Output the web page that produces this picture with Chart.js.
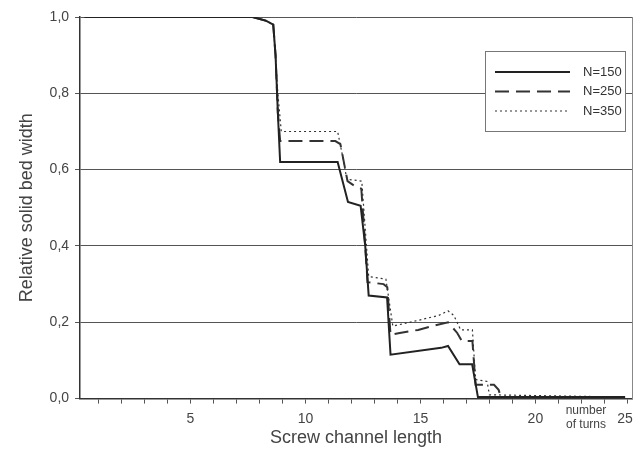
<!DOCTYPE html>
<html>
<head>
<meta charset="utf-8">
<script src="https://cdn.jsdelivr.net/npm/chart.js@4.4.0/dist/chart.umd.min.js"></script>
<style>
body { margin: 0; background: #fff; }
#wrap { width: 642px; height: 454px; }
</style>
</head>
<body>
<div id="wrap"><canvas id="chart"></canvas></div>
<script>
// series labels
const seriesLabels = ['N=150', 'N=250', 'N=350']

// number of turns (x) and relative solid bed width (y)
const x150 = [0.4, 7.7, 8.3, 8.6, 8.7, 8.8, 8.9, 11.4, 11.85, 12.4, 12.6, 12.75, 13.55, 13.7, 15.9, 16.2, 16.7, 17.25, 17.5, 23.9]
const y150 = [1.0, 1.0, 0.99, 0.98, 0.9, 0.75, 0.62, 0.62, 0.515, 0.505, 0.40, 0.27, 0.265, 0.115, 0.133, 0.138, 0.09, 0.09, 0.004, 0.004]

const x250 = [0.4, 7.7, 8.3, 8.6, 8.7, 8.8, 8.9, 11.3, 11.52, 11.83, 12.17, 12.43, 12.6, 12.7, 13.4, 13.56, 13.7, 14.1, 14.9, 15.65, 16.2, 16.6, 16.8, 17.26, 17.4, 18.2, 18.4, 18.5, 23.9]
const y250 = [1.0, 1.0, 0.99, 0.98, 0.9, 0.75, 0.675, 0.675, 0.667, 0.57, 0.556, 0.55, 0.40, 0.305, 0.30, 0.292, 0.167, 0.172, 0.18, 0.192, 0.20, 0.172, 0.151, 0.151, 0.036, 0.036, 0.023, 0.004, 0.004]

const x350 = [0.4, 7.7, 8.3, 8.6, 8.7, 8.8, 8.95, 11.4, 11.6, 11.8, 12.45, 12.75, 13.5, 13.8, 14.9, 15.8, 16.2, 16.45, 16.75, 17.26, 17.4, 17.9, 18.0, 23.9]
const y350 = [1.0, 1.0, 0.99, 0.98, 0.9, 0.8, 0.70, 0.70, 0.64, 0.575, 0.57, 0.32, 0.313, 0.19, 0.205, 0.218, 0.23, 0.218, 0.18, 0.18, 0.05, 0.045, 0.01, 0.004]

// tick marks on the x axis, labels only every 5 turns
const turnTicks = [1, 2, 3, 4, 5, 6, 7, 8, 9, 10, 11, 12, 13, 14, 15, 16, 17, 18, 19, 20, 21, 22, 23, 24]

const font = "'Liberation Sans', Arial, sans-serif"

function toPoints(xs, ys){
    let pts = []
    for (let i = 0; i < xs.length; i++)
        pts.push({x: xs[i], y: ys[i]})
    return pts
}

// legend box drawn inside the plot, plus the "number of turns" note
const boxLegend = {
    id: 'boxLegend',
    afterDraw(chart){
        const ctx = chart.ctx
        const xs = chart.scales.x
        const area = chart.chartArea
        ctx.save()

        // note at the end of the x axis
        ctx.fillStyle = '#444'
        ctx.textAlign = 'center'
        ctx.textBaseline = 'middle'
        ctx.font = '12px ' + font
        let nx = xs.getPixelForValue(22.2)
        ctx.fillText('number', nx, area.bottom + 12)
        ctx.fillText('of turns', nx, area.bottom + 26)
        ctx.font = '14px ' + font
        ctx.fillText('25', xs.getPixelForValue(23.9), area.bottom + 21)

        // legend
        const bx = 485, by = 51, bw = 140, bh = 80
        ctx.fillStyle = '#fff'
        ctx.fillRect(bx, by, bw, bh)
        ctx.strokeStyle = '#777'
        ctx.lineWidth = 1
        ctx.strokeRect(bx + 0.5, by + 0.5, bw, bh)

        chart.data.datasets.forEach((ds, i) => {
            let ly = by + 21 + i * 19.5
            ctx.strokeStyle = ds.borderColor
            ctx.lineWidth = ds.borderWidth
            ctx.setLineDash(ds.borderDash || [])
            ctx.beginPath()
            ctx.moveTo(bx + 10, ly)
            ctx.lineTo(bx + 85, ly)
            ctx.stroke()
            ctx.setLineDash([])
            ctx.fillStyle = '#333'
            ctx.textAlign = 'left'
            ctx.font = '13px ' + font
            ctx.fillText(ds.label, bx + 98, ly)
        })
        ctx.restore()
    }
}

const data = {
    datasets: [{
            label: seriesLabels[0],
            data: toPoints(x150, y150),
            borderColor: '#222',
            borderWidth: 2,
            pointRadius: 0
        }, {
            label: seriesLabels[1],
            data: toPoints(x250, y250),
            borderColor: '#333',
            borderWidth: 2,
            borderDash: [14, 7],
            pointRadius: 0
        }, {
            label: seriesLabels[2],
            data: toPoints(x350, y350),
            borderColor: '#333',
            borderWidth: 1.2,
            borderDash: [2, 3],
            pointRadius: 0
        }]
}

const config = {
    type: 'line',
    data: data,
    plugins: [boxLegend],
    options: {
        responsive: true,
        maintainAspectRatio: false,
        animation: false,
        layout: {padding: {top: 17, right: 2, bottom: 5, left: 16}},
        plugins: {
            legend: {display: false},
            tooltip: {enabled: false}
        },
        scales: {
            x: {
                type: 'linear',
                min: 0.2,
                max: 24.2,
                afterBuildTicks: axis => { axis.ticks = turnTicks.map(v => ({value: v})) },
                ticks: {
                    autoSkip: false,
                    maxRotation: 0,
                    padding: 7,
                    color: '#444',
                    font: {family: font, size: 14},
                    callback: v => v % 5 === 0 ? v : ''
                },
                grid: {drawOnChartArea: false, tickLength: 5, color: '#555'},
                border: {color: '#333', width: 1.5},
                title: {
                    display: true,
                    text: 'Screw channel length',
                    color: '#444',
                    font: {family: font, size: 18},
                    padding: {top: -7, bottom: 0}
                }
            },
            y: {
                min: 0,
                max: 1,
                ticks: {
                    stepSize: 0.2,
                    padding: 6,
                    color: '#444',
                    font: {family: font, size: 14},
                    callback: v => v.toFixed(1).replace('.', ',')
                },
                grid: {color: '#555', tickLength: 5},
                border: {color: '#333', width: 1.5},
                title: {
                    display: true,
                    text: 'Relative solid bed width',
                    color: '#444',
                    font: {family: font, size: 18},
                    padding: {top: 0, bottom: 6}
                }
            },
            y2: {
                position: 'right',
                min: 0,
                max: 1,
                ticks: {display: false},
                grid: {display: false},
                border: {color: '#888', width: 1}
            }
        }
    }
}

let ctx = document.getElementById('chart').getContext('2d')
new Chart(ctx, config)
</script>
</body>
</html>
